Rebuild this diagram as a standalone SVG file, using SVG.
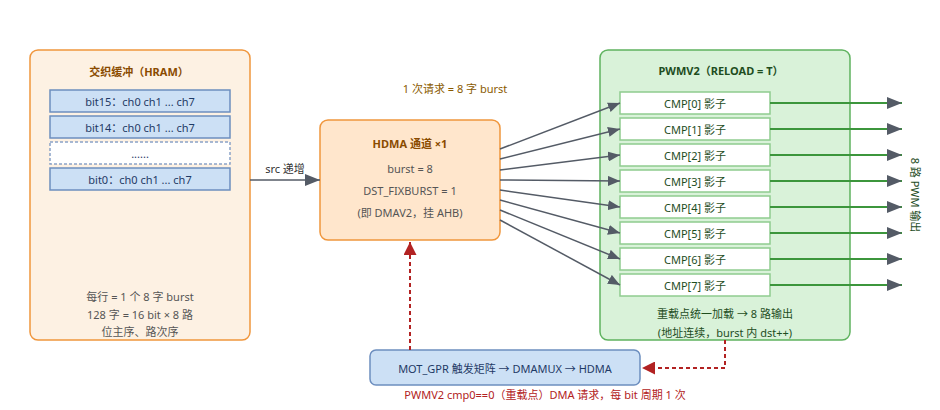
<svg xmlns="http://www.w3.org/2000/svg" width="940" height="410" viewBox="0 0 940 410">
<defs>
<marker id="ag" viewBox="0 0 10 10" refX="10" refY="5" markerWidth="5" markerHeight="5" orient="auto" markerUnits="userSpaceOnUse"><path d="M0,0L10,5L0,10z" fill="#545b66"/></marker>
<marker id="agl" viewBox="0 0 10 10" refX="10" refY="5" markerWidth="15" markerHeight="12" orient="auto" markerUnits="userSpaceOnUse" preserveAspectRatio="none"><path d="M0,0L10,5L0,10z" fill="#545b66"/></marker>
<marker id="am" viewBox="0 0 10 10" refX="10" refY="5" markerWidth="12" markerHeight="10" orient="auto" markerUnits="userSpaceOnUse" preserveAspectRatio="none"><path d="M0,0L10,5L0,10z" fill="#545b66"/></marker>
<marker id="ar" viewBox="0 0 10 10" refX="10" refY="5" markerWidth="13" markerHeight="13" orient="auto" markerUnits="userSpaceOnUse"><path d="M0,0L10,5L0,10z" fill="#b22222"/></marker>
</defs>
<style>
text{font-family:"Noto Sans","Noto Sans CJK SC",sans-serif;font-size:11px;text-anchor:middle;dominant-baseline:central}
.row{fill:#cce0f5;stroke:#6c8ebf;stroke-width:1.5}
.rt{fill:#1f3a66}
.cmp{fill:#fff;stroke:#8fcc8f;stroke-width:1.5}
.ct{fill:#1e4d1e}
.fan{stroke:#545b66;stroke-width:1.5;fill:none}
.out{stroke:#3c963c;stroke-width:2;fill:none}
.red{stroke:#b22222;stroke-width:2;stroke-dasharray:4 3;fill:none}
</style>
<rect width="940" height="410" fill="#fff"/>
<g id="hram">
<rect x="30" y="50" width="220" height="290" rx="8" fill="#fdf1e3" stroke="#f0963c" stroke-width="1.5"/>
<text x="139" y="71" font-size="13" font-weight="bold" fill="#8a4b00">交织缓冲（HRAM）</text>
<rect class="row" x="50" y="90" width="180" height="22"/><text class="rt" x="140" y="101">bit15：ch0 ch1 ... ch7</text>
<rect class="row" x="50" y="116" width="180" height="22"/><text class="rt" x="140" y="127">bit14：ch0 ch1 ... ch7</text>
<rect x="50" y="142" width="180" height="22" fill="#fff" stroke="#8aa2c8" stroke-width="1.5" stroke-dasharray="3 2"/><text class="rt" x="140" y="153">......</text>
<rect class="row" x="50" y="168" width="180" height="22"/><text class="rt" x="140" y="179">bit0：ch0 ch1 ... ch7</text>
<text x="140" y="296" fill="#555">每行 = 1 个 8 字 burst</text>
<text x="140" y="314" fill="#555">128 字 = 16 bit × 8 路</text>
<text x="140" y="331" fill="#555">位主序、路次序</text>
</g>
<g id="hdma">
<rect x="320" y="120" width="180" height="120" rx="8" fill="#ffe6cc" stroke="#f0963c" stroke-width="1.5"/>
<text x="410" y="143" font-size="14" font-weight="bold" fill="#8a4b00">HDMA 通道 ×1</text>
<text x="410" y="168" font-size="12" fill="#555">burst = 8</text>
<text x="410" y="190" font-size="12" fill="#555">DST_FIXBURST = 1</text>
<text x="410" y="212" fill="#555">(即 DMAV2，挂 AHB)</text>
</g>
<text x="455" y="88" fill="#8a5a00">1 次请求 = 8 字 burst</text>
<g id="pwmv2">
<rect x="600" y="50" width="250" height="290" rx="8" fill="#d9f2d9" stroke="#5fb35f" stroke-width="1.5"/>
<text x="721" y="70" font-size="14" font-weight="bold" fill="#1e4d1e">PWMV2（RELOAD = T）</text>
<rect class="cmp" x="620" y="92" width="150" height="22"/><text class="ct" x="695" y="103">CMP[0] 影子</text>
<rect class="cmp" x="620" y="118" width="150" height="22"/><text class="ct" x="695" y="129">CMP[1] 影子</text>
<rect class="cmp" x="620" y="144" width="150" height="22"/><text class="ct" x="695" y="155">CMP[2] 影子</text>
<rect class="cmp" x="620" y="170" width="150" height="22"/><text class="ct" x="695" y="181">CMP[3] 影子</text>
<rect class="cmp" x="620" y="196" width="150" height="22"/><text class="ct" x="695" y="207">CMP[4] 影子</text>
<rect class="cmp" x="620" y="222" width="150" height="22"/><text class="ct" x="695" y="233">CMP[5] 影子</text>
<rect class="cmp" x="620" y="248" width="150" height="22"/><text class="ct" x="695" y="259">CMP[6] 影子</text>
<rect class="cmp" x="620" y="274" width="150" height="22"/><text class="ct" x="695" y="285">CMP[7] 影子</text>
<text x="725" y="313" fill="#1e4d1e">重载点统一加载 → 8 路输出</text>
<text x="725" y="332" fill="#1e4d1e">(地址连续，burst 内 dst++)</text>
</g>
<text x="915" y="195" transform="rotate(90 915 195)" fill="#1e4d1e">8 路 PWM 输出</text>
<g id="trig">
<rect x="370" y="350" width="270" height="35" rx="6" fill="#cce0f5" stroke="#6c8ebf" stroke-width="1.5"/>
<text x="505" y="368" fill="#1f3a66">MOT_GPR 触发矩阵 → DMAMUX → HDMA</text>
</g>
<text x="545" y="394" fill="#b22222">PWMV2 cmp0==0（重载点）DMA 请求，每 bit 周期 1 次</text>
<g id="connectors">
<line x1="250" y1="180" x2="320" y2="180" class="fan" stroke-width="2" marker-end="url(#agl)"/>
<text x="285" y="168" font-size="9" fill="#333">src 递增</text>
<line class="fan" x1="500" y1="149" x2="620" y2="103" marker-end="url(#am)"/>
<line class="fan" x1="500" y1="159" x2="620" y2="129" marker-end="url(#am)"/>
<line class="fan" x1="500" y1="170" x2="620" y2="155" marker-end="url(#am)"/>
<line class="fan" x1="500" y1="180" x2="620" y2="181" marker-end="url(#am)"/>
<line class="fan" x1="500" y1="190" x2="620" y2="207" marker-end="url(#am)"/>
<line class="fan" x1="500" y1="200" x2="620" y2="233" marker-end="url(#am)"/>
<line class="fan" x1="500" y1="210" x2="620" y2="259" marker-end="url(#am)"/>
<line class="fan" x1="500" y1="220" x2="620" y2="285" marker-end="url(#am)"/>
<line class="out" x1="770" y1="103" x2="902" y2="103" marker-end="url(#agl)"/>
<line class="out" x1="770" y1="129" x2="902" y2="129" marker-end="url(#agl)"/>
<line class="out" x1="770" y1="155" x2="902" y2="155" marker-end="url(#agl)"/>
<line class="out" x1="770" y1="181" x2="902" y2="181" marker-end="url(#agl)"/>
<line class="out" x1="770" y1="207" x2="902" y2="207" marker-end="url(#agl)"/>
<line class="out" x1="770" y1="233" x2="902" y2="233" marker-end="url(#agl)"/>
<line class="out" x1="770" y1="259" x2="902" y2="259" marker-end="url(#agl)"/>
<line class="out" x1="770" y1="285" x2="902" y2="285" marker-end="url(#agl)"/>
<path class="red" d="M410,350V242" marker-end="url(#ar)"/>
<path class="red" d="M725,340V368H642" marker-end="url(#ar)"/>
</g>
</svg>
